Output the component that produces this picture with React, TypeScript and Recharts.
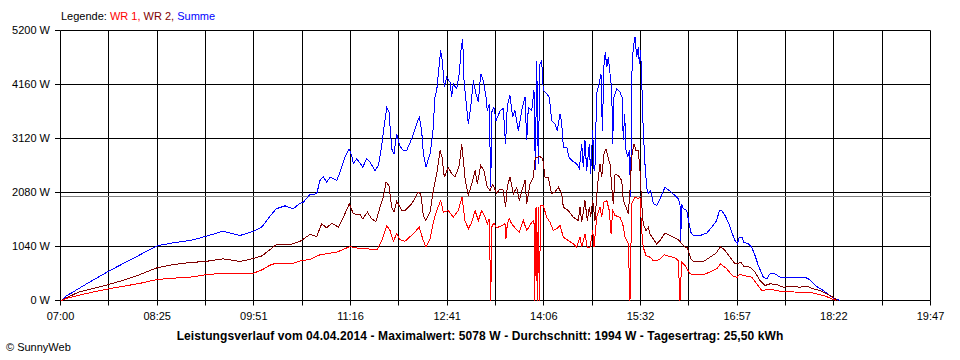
import React from 'react';
import { LineChart, Line, XAxis, YAxis, CartesianGrid, ReferenceLine } from 'recharts';

// axis: 07:00 .. 19:47, 18 grid steps, a label on every second one
const timeLabels = ['07:00', '08:25', '09:51', '11:16', '12:41', '14:06', '15:32', '16:57', '18:22', '19:47'];
const wattTicks = [0, 1040, 2080, 3120, 4160, 5200];
const dayMinutes = 767.5;
const gridSteps = 18;
const averageW = 1994;

// minutes after 07:00 / watts
const sumMin = [
  0, 2.2, 5.5, 10.1, 15.7, 26.0, 42.5, 56.9, 70.1, 85.1,
  99.2, 114.2, 127.7, 143.4, 158.4, 170.3, 177.8, 184.8, 190.2, 198.1,
  205.2, 211.4, 214.2, 220.1, 226.0, 228.9, 231.8, 234.8, 237.8, 243.7,
  246.6, 251.0, 254.5, 256.9, 258.3, 261.3, 264.8, 266.6, 270.1, 273.0,
  277.4, 280.4, 283.4, 285.4, 287.8, 289.8, 292.2, 294.2, 296.6, 299.5,
  302.4, 305.4, 309.8, 314.2, 316.5, 318.6, 320.1, 322.4, 326.0, 328.4,
  330.4, 331.9, 333.3, 335.4, 336.8, 338.6, 340.7, 343.6, 345.1, 346.5,
  349.5, 351.8, 353.3, 354.8, 356.0, 357.7, 359.8, 361.9, 364.2, 366.6,
  368.6, 370.7, 373.0, 375.4, 376.5, 378.3, 379.5, 380.7, 382.4, 384.2,
  386.2, 387.7, 390.6, 392.6, 394.2, 396.5, 398.9, 400.9, 403.9, 406.9,
  409.8, 411.3, 412.7, 415.7, 417.7, 418.9, 420.1, 421.5, 423.0, 424.5,
  425.9, 428.9, 431.2, 433.3, 436.2, 438.3, 440.7, 442.2, 443.6, 446.6,
  448.6, 451.0, 455.4, 457.7, 459.8, 461.2, 462.7, 464.2, 466.5, 467.7,
  469.5, 470.7, 471.5, 473.0, 475.1, 476.8, 478.0, 479.5, 480.6, 481.9,
  483.3, 484.8, 486.3, 487.1, 488.3, 490.7, 493.6, 495.4, 496.5, 497.7,
  498.9, 500.4, 501.8, 503.0, 503.9, 505.3, 506.8, 508.3, 509.7, 510.6,
  511.8, 513.0, 514.1, 515.6, 517.1, 518.6, 520.7, 523.0, 526.0, 529.5,
  533.3, 537.7, 542.1, 545.0, 546.5, 547.1, 548.0, 549.4, 552.4, 553.8,
  556.0, 558.3, 564.2, 570.1, 574.5, 578.9, 581.2, 583.3, 586.2, 589.1,
  592.1, 595.0, 597.1, 598.8, 601.2, 602.9, 606.8, 609.8, 612.7, 615.6,
  620.0, 623.0, 625.9, 630.3, 634.7, 643.6, 649.5, 656.8, 661.2, 667.1,
  672.9, 678.8, 682.4, 686.2, 687.7,
];
const sumW = [
  0, 20, 96, 150, 225, 360, 565, 730, 880, 1053,
  1111, 1155, 1232, 1335, 1252, 1335, 1420, 1620, 1766, 1823,
  1766, 1874, 1893, 2041, 2055, 2311, 2388, 2279, 2375, 2311,
  2471, 2760, 2921, 2793, 2632, 2729, 2632, 2567, 2729, 2664,
  2504, 2600, 2985, 3338, 3711, 3627, 2921, 2825, 3210, 2970,
  2889, 2889, 3114, 3403, 3531, 3274, 2825, 2567, 2825, 3210,
  3916, 4045, 4366, 4815, 4622, 4108, 4301, 4205, 3916, 4173,
  4077, 4366, 4815, 5040, 4237, 3852, 3403, 3723, 4237, 3980,
  3819, 4366, 4237, 3916, 3659, 3788, 2182, 3659, 3723, 3467,
  3563, 3650, 3700, 3018, 3760, 3948, 3531, 3659, 3274, 3659,
  3916, 3082, 3723, 3659, 4045, 2504, 4622, 2632, 4558, 4622,
  4045, 3980, 3916, 3467, 3403, 3274, 3595, 3403, 2953, 2953,
  2760, 2696, 2632, 2536, 3018, 2567, 3082, 2504, 3018, 2440,
  3274, 2504, 2567, 3980, 4173, 4366, 3274, 4558, 4782, 4494,
  4686, 4366, 4045, 3018, 3916, 4077, 4012, 3916, 3082, 3595,
  2889, 2760, 2889, 1990, 4301, 4879, 5078, 4686, 4879, 4558,
  4815, 4045, 3274, 2632, 2182, 2055, 2119, 1862, 1830, 1990,
  2182, 2105, 2022, 1958, 1862, 1123, 1862, 1766, 1734, 1573,
  1316, 1252, 1252, 1297, 1412, 1541, 1734, 1734, 1637, 1508,
  1316, 1156, 1092, 1220, 1220, 1123, 1092, 1027, 867, 674,
  449, 417, 514, 514, 449, 437, 437, 449, 398, 270,
  193, 96, 32, 13, 0,
];

const wr2Min = [
  0, 2.2, 5.5, 10.1, 15.7, 26.0, 42.5, 56.9, 70.1, 85.1,
  99.2, 114.2, 127.7, 143.4, 158.4, 170.3, 177.8, 184.8, 190.2, 198.1,
  202.5, 211.4, 220.1, 226.0, 230.4, 234.8, 239.3, 245.1, 249.5, 254.8,
  258.3, 264.2, 266.6, 270.7, 274.5, 278.3, 281.9, 284.8, 287.2, 289.8,
  292.2, 294.2, 296.6, 301.0, 303.9, 309.8, 315.6, 317.8, 320.1, 322.4,
  326.0, 328.9, 331.9, 334.8, 336.6, 338.6, 342.1, 345.1, 348.0, 351.8,
  353.9, 355.4, 357.1, 359.8, 362.8, 365.7, 367.7, 370.7, 373.6, 376.5,
  378.9, 381.3, 384.8, 387.7, 390.6, 392.6, 394.2, 396.5, 399.5, 402.5,
  404.7, 407.1, 409.8, 411.3, 414.2, 417.1, 418.9, 420.6, 423.0, 425.4,
  427.4, 430.3, 433.3, 436.2, 439.2, 442.2, 443.6, 448.0, 452.4, 456.8,
  458.3, 459.8, 462.7, 464.7, 466.5, 467.7, 469.5, 471.5, 473.6, 475.9,
  477.4, 479.5, 481.2, 483.3, 484.8, 486.3, 487.7, 489.2, 492.1, 495.1,
  496.5, 498.9, 500.9, 502.4, 503.9, 505.9, 507.7, 509.7, 511.2, 512.7,
  514.1, 516.5, 518.6, 520.0, 522.9, 525.9, 528.9, 533.3, 537.7, 542.1,
  545.9, 548.0, 550.9, 552.9, 556.0, 558.3, 567.1, 573.0, 578.3, 582.4,
  586.2, 590.6, 595.0, 597.9, 600.1, 603.0, 608.3, 612.7, 617.1, 621.5,
  625.9, 631.8, 637.6, 643.6, 652.4, 658.3, 664.1, 670.0, 675.9, 680.3,
  684.8, 685.9,
];
const wr2W = [
  0, 15, 60, 100, 160, 215, 308, 400, 500, 630,
  690, 732, 751, 803, 751, 810, 860, 980, 1073, 1080,
  1073, 1142, 1271, 1232, 1477, 1400, 1489, 1412, 1604, 1862,
  1670, 1656, 1573, 1701, 1573, 1522, 1797, 1990, 2279, 2215,
  1797, 1701, 1913, 1734, 1734, 1862, 2086, 2055, 1637, 1541,
  1701, 2119, 2440, 2889, 2760, 2375, 2567, 2440, 2375, 2600,
  3018, 2696, 2311, 2022, 2247, 2504, 2247, 2600, 2504, 2182,
  2119, 2234, 2067, 2150, 2125, 1797, 2200, 2375, 2055, 2182,
  1926, 2119, 2311, 1862, 2247, 2375, 2760, 2760, 2773, 2729,
  2375, 2375, 2055, 2086, 2182, 2055, 1797, 1734, 1604, 1541,
  1797, 1508, 1926, 1541, 1797, 1604, 1926, 1541, 2182, 2632,
  2375, 2825, 2921, 2729, 2632, 2182, 1862, 2427, 2408, 2311,
  1926, 1797, 1670, 2119, 2760, 3018, 2889, 2889, 2504, 1862,
  1477, 1348, 1412, 1284, 1188, 1092, 1156, 1297, 1252, 1207,
  1156, 1092, 1027, 1027, 803, 751, 751, 834, 911, 1040,
  963, 834, 707, 719, 738, 655, 642, 545, 385, 289,
  321, 308, 257, 270, 257, 276, 225, 193, 128, 77,
  13, 0,
];

const wr1Min = [
  0, 2.2, 5.5, 10.1, 15.7, 26.0, 42.5, 56.9, 70.1, 85.1,
  99.2, 114.2, 127.7, 143.4, 170.3, 177.8, 184.8, 190.2, 205.2, 212.8,
  220.1, 228.9, 243.7, 255.4, 259.8, 270.1, 279.5, 283.4, 287.8, 290.7,
  293.6, 296.6, 299.5, 303.9, 311.2, 316.5, 319.5, 322.4, 326.0, 328.9,
  331.9, 335.4, 337.7, 342.1, 346.5, 350.9, 354.2, 356.8, 359.8, 362.8,
  365.7, 368.6, 371.6, 374.5, 376.5, 378.3, 379.5, 380.7, 382.4, 384.8,
  389.2, 392.1, 393.0, 394.2, 395.9, 398.0, 401.8, 404.7, 408.3, 411.3,
  415.7, 417.7, 418.3, 419.5, 420.6, 421.5, 422.4, 423.6, 425.9, 428.9,
  431.8, 434.7, 437.7, 440.7, 443.6, 448.0, 452.4, 455.4, 458.3, 459.8,
  462.7, 464.7, 467.1, 469.5, 470.7, 473.0, 475.9, 477.4, 479.5, 481.9,
  484.1, 485.7, 487.1, 489.2, 493.6, 496.0, 498.0, 500.9, 502.4, 503.9,
  506.8, 509.7, 511.2, 512.7, 514.1, 516.5, 520.0, 522.9, 525.9, 528.9,
  532.4, 537.7, 542.1, 545.0, 546.5, 548.0, 550.9, 555.3, 558.3, 567.1,
  574.5, 578.9, 582.4, 587.7, 593.5, 597.1, 599.4, 602.4, 609.8, 614.2,
  618.6, 623.0, 628.8, 634.7, 649.5, 661.2, 667.1, 672.9, 678.8, 682.4,
  684.2,
];
const wr1W = [
  0, 10, 40, 65, 100, 150, 225, 280, 330, 404,
  430, 449, 494, 526, 526, 591, 680, 719, 719, 770,
  790, 880, 931, 1040, 1015, 996, 976, 1156, 1444, 1348,
  1142, 1284, 1168, 1142, 1284, 1412, 1188, 1027, 1188, 1508,
  1734, 1926, 1701, 1734, 1604, 1734, 1990, 1541, 1380, 1508,
  1734, 1541, 1734, 1604, 1477, 1573, 0, 1444, 1489, 1400,
  1444, 1477, 1188, 1477, 1573, 1477, 1380, 1316, 1541, 1348,
  1508, 1541, 0, 1797, 0, 1800, 0, 1830, 1830, 1604,
  1508, 1348, 1380, 1444, 1220, 1156, 1092, 1027, 1220, 1027,
  1284, 1027, 1027, 1348, 1027, 1604, 1797, 1604, 1893, 1926,
  1734, 1284, 1734, 1637, 1604, 1477, 1220, 1092, 0, 1862,
  1990, 1958, 1990, 1348, 1027, 867, 834, 770, 770, 803,
  880, 847, 822, 770, 0, 738, 674, 514, 494, 494,
  565, 610, 707, 610, 462, 449, 514, 482, 449, 321,
  193, 206, 206, 180, 161, 161, 128, 96, 51, 13,
  0,
];

const rows = (mins: number[], watts: number[]) => mins.map((t, i) => ({ t, w: watts[i] }));
const sumRows = rows(sumMin, sumW);
const wr2Rows = rows(wr2Min, wr2W);
const wr1Rows = rows(wr1Min, wr1W);

const xTicks = Array.from({ length: gridSteps + 1 }, (_, i) => (i * dayMinutes) / gridSteps);

const FONT = '"Liberation Sans", Arial, sans-serif';
const PLOT_BOTTOM = 300.5;

const TimeTick = ({ x, payload }: any) => {
  const step = Math.round(payload.value / (dayMinutes / gridSteps));
  const px = Math.floor(x) + 0.5;
  const label = step % 2 === 0 ? timeLabels[step / 2] : null;
  return (
    <g>
      <line x1={px} x2={px} y1={PLOT_BOTTOM} y2={PLOT_BOTTOM + 5} stroke="#000" />
      {label && (
        <text x={x} y={320} textAnchor="middle" fontSize={11} fontFamily={FONT} fill="#000">{label}</text>
      )}
    </g>
  );
};

const WattTick = ({ y, payload }: any) => (
  <g>
    <line x1={55} x2={60.5} y1={y} y2={y} stroke="#000" />
    <text x={50} y={y} dy="0.35em" textAnchor="end" fontSize={11} fontFamily={FONT} fill="#000">
      {`${payload.value} W`}
    </text>
  </g>
);

const verticalGrid = ({ offset }: any) => {
  const left = offset?.left ?? 60.5;
  const width = offset?.width ?? 870;
  return xTicks.map(v => Math.floor(left + (v / dayMinutes) * width) + 0.5);
};

export default function App() {
  return (
    <div style={{ position: 'relative', width: 960, height: 360, background: '#fff', fontFamily: FONT }}>
      <style>{'body{margin:0} .recharts-line-curve, .recharts-reference-line-line{shape-rendering:crispEdges}'}</style>
      <div style={{ position: 'absolute', left: 61, top: 10, fontSize: 11, lineHeight: '13px', whiteSpace: 'nowrap' }}>
        <span style={{ color: '#000' }}>Legende: </span>
        <span style={{ color: '#ff0000' }}>WR 1, </span>
        <span style={{ color: '#800000' }}>WR 2, </span>
        <span style={{ color: '#0000ff' }}>Summe</span>
      </div>
      <LineChart width={960} height={360} margin={{ top: 30.5, right: 29.5, bottom: 29.5, left: 0.5 }}>
        <CartesianGrid stroke="#000" strokeOpacity={1} verticalCoordinatesGenerator={verticalGrid} />
        <XAxis
          type="number" dataKey="t" domain={[0, dayMinutes]} ticks={xTicks}
          interval={0} height={30} axisLine={false} tickLine={false}
          tick={<TimeTick />} allowDataOverflow
        />
        <YAxis
          type="number" domain={[0, 5200]} ticks={wattTicks} width={60}
          axisLine={false} tickLine={false} tick={<WattTick />} interval={0}
        />
        <ReferenceLine y={averageW} stroke="#808080" strokeWidth={1} />
        <Line data={sumRows} dataKey="w" type="linear" stroke="#0000ff" strokeWidth={1}
          dot={false} activeDot={false} isAnimationActive={false} />
        <Line data={wr2Rows} dataKey="w" type="linear" stroke="#800000" strokeWidth={1}
          dot={false} activeDot={false} isAnimationActive={false} />
        <Line data={wr1Rows} dataKey="w" type="linear" stroke="#ff0000" strokeWidth={1}
          dot={false} activeDot={false} isAnimationActive={false} />
      </LineChart>
      <div style={{ position: 'absolute', left: 0, width: 960, top: 329, textAlign: 'center', fontSize: 12, fontWeight: 'bold', lineHeight: '14px', letterSpacing: 0.1 }}>
        Leistungsverlauf vom 04.04.2014 - Maximalwert: 5078 W - Durchschnitt: 1994 W - Tagesertrag: 25,50 kWh
      </div>
      <div style={{ position: 'absolute', left: 6, top: 341, fontSize: 11, lineHeight: '13px' }}>
        © SunnyWeb
      </div>
    </div>
  );
}
